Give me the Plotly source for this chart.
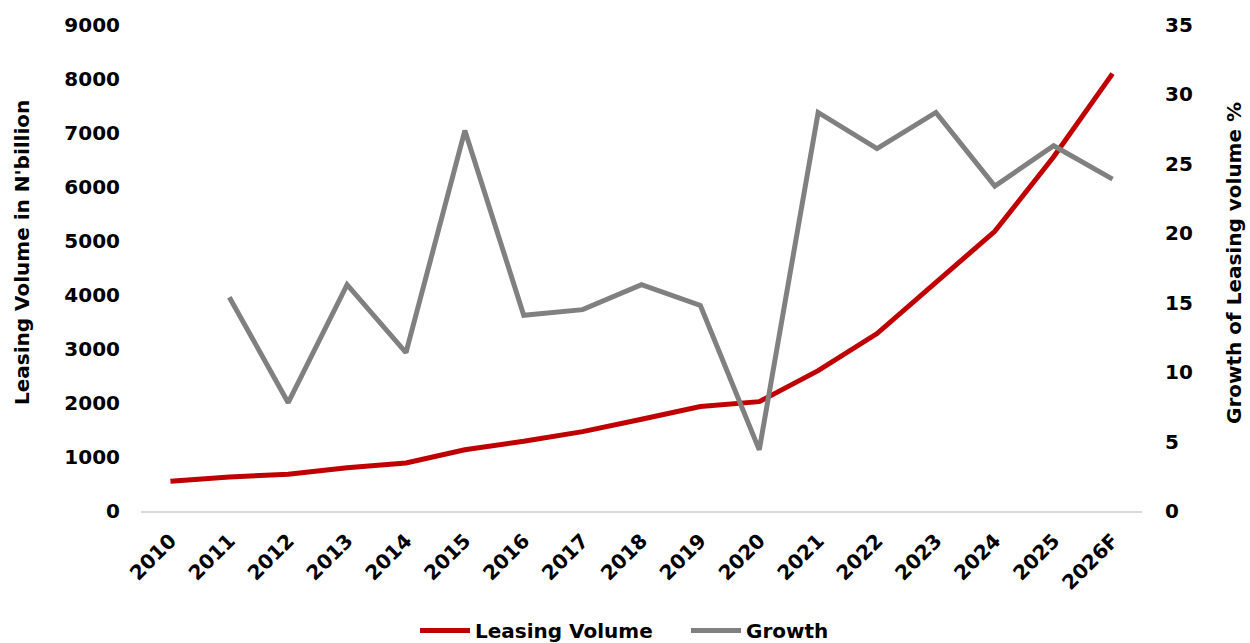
import plotly.graph_objects as go

# Leasing volume (N'billion) and year-on-year growth (%)
years = ["2010", "2011", "2012", "2013", "2014", "2015", "2016", "2017", "2018",
         "2019", "2020", "2021", "2022", "2023", "2024", "2025", "2026F"]
leasing_volume = [550, 630, 680, 800, 890, 1135, 1290, 1470, 1700,
                  1935, 2025, 2600, 3285, 4230, 5180, 6560, 8100]
growth_pct = [None, 15.4, 7.8, 16.3, 11.4, 27.4, 14.1, 14.5, 16.3,
              14.8, 4.4, 28.7, 26.1, 28.7, 23.4, 26.3, 23.9]

FONT = "DejaVu Sans"
RED = "#C00000"
GREY = "#808080"

fig = go.Figure()
fig.add_trace(go.Scatter(
    x=years, y=leasing_volume, name="Leasing Volume", mode="lines",
    line=dict(color=RED, width=5), yaxis="y",
))
fig.add_trace(go.Scatter(
    x=years, y=growth_pct, name="Growth", mode="lines",
    line=dict(color=GREY, width=5), yaxis="y2",
))

W, H = 1250, 643
L, R, T, B = 141, 108, 25, 132
plot_w = W - L - R
plot_h = H - T - B

tick_font = dict(family=FONT, size=20, color="#000000", weight="bold")

fig.update_layout(
    width=W, height=H,
    margin=dict(l=L, r=R, t=T, b=B, autoexpand=False),
    paper_bgcolor="white", plot_bgcolor="white",
    font=dict(family=FONT, color="#000000"),
    xaxis=dict(
        type="category", range=[-0.5, len(years) - 0.5],
        showgrid=False, zeroline=False,
        showline=True, linecolor="#D9D9D9", linewidth=2,
        ticks="", tickangle=-45, tickfont=tick_font,
        ticklabelstandoff=8,
    ),
    yaxis=dict(
        range=[0, 9000], dtick=1000, showgrid=False, zeroline=False,
        showline=False, ticks="", tickfont=tick_font,
        ticklabelstandoff=20,
    ),
    yaxis2=dict(
        range=[0, 35], dtick=5, overlaying="y", side="right",
        showgrid=False, zeroline=False, showline=False, ticks="",
        tickfont=tick_font, ticklabelstandoff=22,
    ),
    legend=dict(
        orientation="h", x=(415 - L) / plot_w, xanchor="left",
        y=-(611 - (T + plot_h)) / plot_h, yanchor="top",
        font=dict(family=FONT, size=20, color="#000000", weight="bold"),
        itemwidth=50, entrywidth=206, entrywidthmode="pixels",
        bgcolor="rgba(0,0,0,0)",
    ),
    showlegend=True,
)

title_font = dict(family=FONT, size=20, color="#000000", weight="bold")
fig.add_annotation(
    text="Leasing Volume in N'billion", textangle=-90,
    xref="paper", yref="paper",
    x=(22 - L) / plot_w, y=(T + plot_h - 253) / plot_h,
    xanchor="center", yanchor="middle", showarrow=False, font=title_font,
)
fig.add_annotation(
    text="Growth of Leasing volume %", textangle=-90,
    xref="paper", yref="paper",
    x=(1234 - L) / plot_w, y=(T + plot_h - 263) / plot_h,
    xanchor="center", yanchor="middle", showarrow=False, font=title_font,
)

fig.write_html("out.html")
